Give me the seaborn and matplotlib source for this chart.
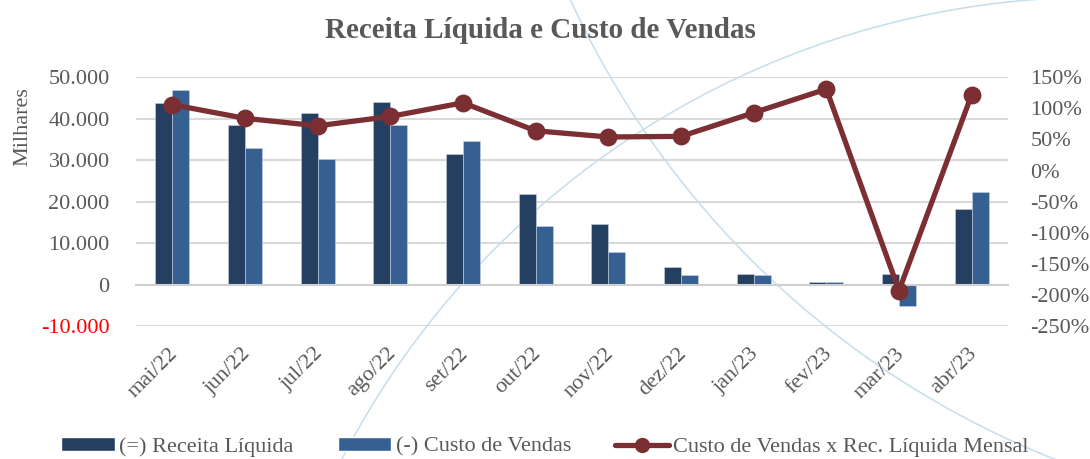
import numpy as np
import pandas as pd
import matplotlib
matplotlib.use('Agg')
import matplotlib.pyplot as plt
import matplotlib.transforms as mtransforms
from matplotlib.patches import Patch, Arc
from matplotlib.lines import Line2D
from matplotlib.ticker import FuncFormatter, FixedLocator
import seaborn as sns

meses = ['mai/22', 'jun/22', 'jul/22', 'ago/22', 'set/22', 'out/22',
         'nov/22', 'dez/22', 'jan/23', 'fev/23', 'mar/23', 'abr/23']
receita = [43800, 38600, 41400, 44000, 31400, 21800, 14700, 4300, 2500, 500, 2500, 18200]
custo = [46900, 32900, 30400, 38600, 34600, 14100, 7900, 2200, 2200, 600, -5200, 22400]
razao = [1.06, 0.84, 0.72, 0.87, 1.09, 0.64, 0.54, 0.55, 0.93, 1.31, -1.93, 1.22]

s_receita = '(=) Receita Líquida'
s_custo = '(-) Custo de Vendas'
s_razao = 'Custo de Vendas x Rec. Líquida Mensal'

c_dark = '#253f60'
c_blue = '#376092'
c_line = '#7b2f32'
c_text = '#595959'

df = pd.DataFrame({'mes': meses * 2,
                   'valor': receita + custo,
                   'serie': [s_receita] * 12 + [s_custo] * 12})

sns.set_style('white')
plt.rcParams['font.family'] = ['Liberation Serif', 'DejaVu Serif']
fs = 16

fig = plt.figure(figsize=(10.9, 4.59), dpi=100)
ax = fig.add_axes([136 / 1090, 1 - 326 / 459, 872 / 1090, 248.7 / 459])
ax.set_facecolor('none')

# watermark arcs in background (pixel centre + radius)
for cx, cy, r in [(1384, -373, 895), (1100, 850, 853)]:
    fig.add_artist(Arc((cx / 1090, 1 - cy / 459), 2 * r / 1090, 2 * r / 459,
                       transform=fig.transFigure, color='#c9e0ec', lw=1.2, zorder=-5))

sns.barplot(data=df, x='mes', y='valor', hue='serie', palette=[c_dark, c_blue],
            saturation=1, width=0.47, ax=ax, legend=False, edgecolor='#c8d3e0',
            linewidth=0.4, zorder=2)
ax.set_ylim(-10000, 50000)
ax.set_yticks(range(-10000, 50001, 10000))
ax.yaxis.set_major_formatter(FuncFormatter(lambda v, p: f'{int(v):,}'.replace(',', '.')))
ax.grid(axis='y', color='#d9d9d9', lw=1.5, zorder=0)
ax.set_axisbelow(True)
for s in ['left', 'right', 'top']:
    ax.spines[s].set_visible(False)
ax.spines['bottom'].set_position(('data', 0))
ax.spines['bottom'].set_color('#d0d0d0')
ax.spines['bottom'].set_linewidth(1.5)
ax.set_xlim(-0.5, 11.5)
ax.xaxis.set_minor_locator(FixedLocator(np.arange(0.5, 11, 1.0)))
ax.tick_params(axis='x', which='major', length=0, pad=43, labelsize=fs, labelcolor=c_text)
ax.tick_params(axis='x', which='minor', length=5, color='#d0d0d0', width=1.2, direction='out')
shift = mtransforms.ScaledTranslation(-0.04, 0, fig.dpi_scale_trans)
for lbl in ax.get_xticklabels():
    lbl.set_rotation(45)
    lbl.set_ha('right')
    lbl.set_rotation_mode('anchor')
    lbl.set_transform(lbl.get_transform() + shift)
ax.tick_params(axis='y', length=0, labelsize=fs, labelcolor=c_text, pad=19)
ax.set_xlabel('')
ax.set_ylabel('Milhares', fontsize=fs, color=c_text)
ax.yaxis.set_label_coords(-0.119, 0.80)

ax2 = ax.twinx()
sns.pointplot(x=meses, y=razao, ax=ax2, color=c_line, markers='o', markersize=10,
              linewidth=3.8, errorbar=None)
ax2.set_ylim(-2.5, 1.5)
ax2.set_yticks(np.arange(-2.5, 1.51, 0.5))
ax2.yaxis.set_major_formatter(FuncFormatter(lambda v, p: f'{v * 100:.0f}%'))
ax2.tick_params(axis='y', length=0, labelsize=fs, labelcolor=c_text, pad=16)
ax2.grid(False)
for s in ax2.spines.values():
    s.set_visible(False)
ax2.set_xlim(-0.5, 11.5)

# negative value on the left axis in red
fig.canvas.draw()
for lbl in ax.get_yticklabels():
    if lbl.get_text().startswith('-') or lbl.get_text().startswith('\u2212'):
        lbl.set_color('red')

fig.suptitle('Receita Líquida e Custo de Vendas', fontsize=21, fontweight='bold',
             color=c_text, x=540 / 1090, y=1 - 30 / 459, va='center')

handles = [Patch(facecolor=c_dark, label=s_receita),
           Patch(facecolor=c_blue, label=s_custo),
           Line2D([], [], color=c_line, lw=3.8, marker='o', markersize=10, label=s_razao)]
fig.legend(handles=handles, loc='center', bbox_to_anchor=(545 / 1090, 1 - 447 / 459), ncol=3,
           frameon=False, fontsize=fs, labelcolor=c_text, handlelength=2.4,
           handleheight=0.55, handletextpad=0.2, columnspacing=2.0)

fig.savefig('out.png', dpi=100)
